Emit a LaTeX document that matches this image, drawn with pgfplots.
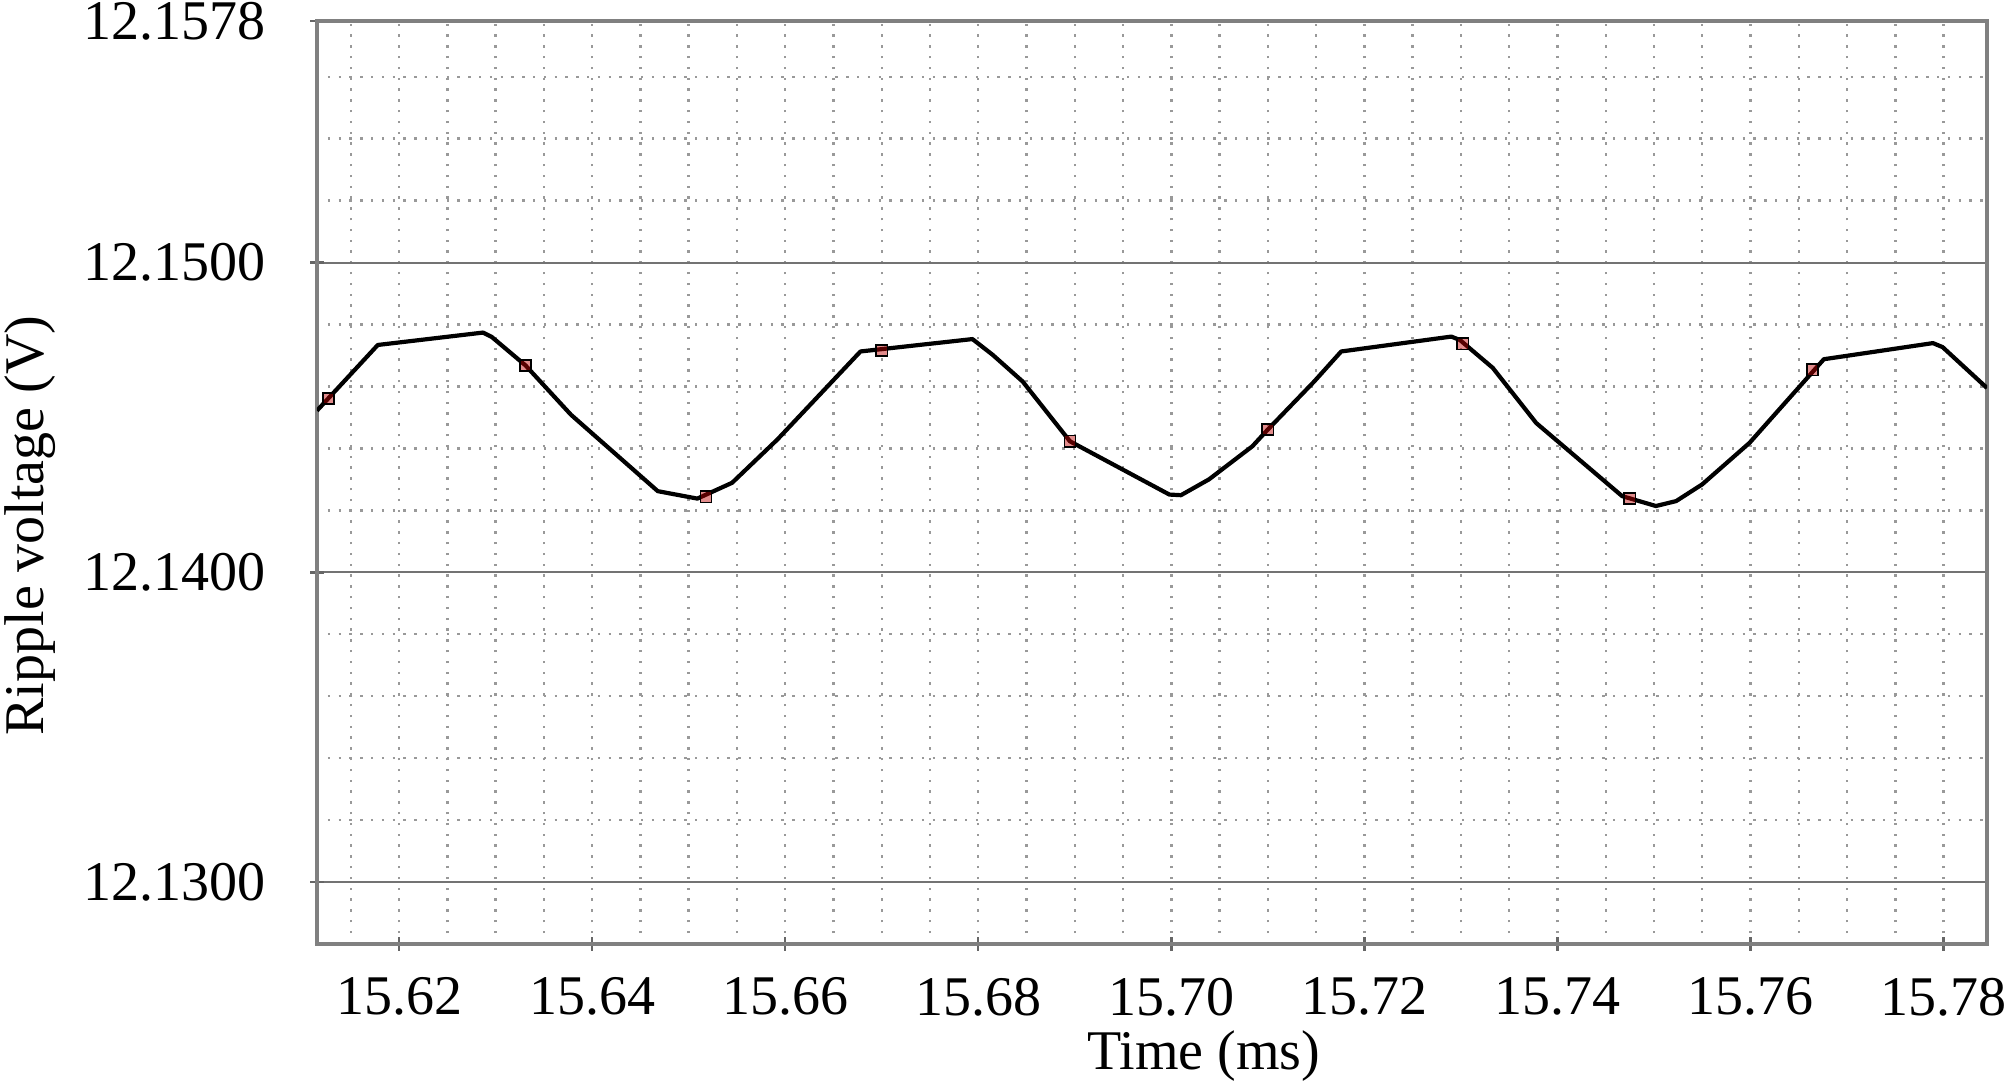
\documentclass[border=0pt]{standalone}
\usepackage{fontspec}
\setmainfont{Liberation Serif}
\usepackage{pgfplots}
\pgfplotsset{compat=1.18}
\begin{document}
\begin{tikzpicture}
\begin{axis}[
  scale only axis,
  width=417.5pt, height=230.75pt,
  xmin=15.6115, xmax=15.7845,
  ymin=12.128, ymax=12.1578,
  xtick={15.62,15.64,15.66,15.68,15.70,15.72,15.74,15.76,15.78},
  xticklabels={15.62,15.64,15.66,15.68,15.70,15.72,15.74,15.76,15.78},
  ytick={12.13,12.14,12.15,12.1578},
  yticklabels={12.1300,12.1400,12.1500,12.1578},
  minor xtick={15.615,15.620,15.625,15.630,15.635,15.640,15.645,15.650,15.655,15.660,15.665,15.670,15.675,15.680,15.685,15.690,15.695,15.700,15.705,15.710,15.715,15.720,15.725,15.730,15.735,15.740,15.745,15.750,15.755,15.760,15.765,15.770,15.775,15.780},
  minor ytick={12.132,12.134,12.136,12.138,12.142,12.144,12.146,12.148,12.152,12.154,12.156},
  tick pos=left,
  tick align=center,
  major tick length=3.5pt,
  minor tick length=0pt,
  tick style={black!60, line width=0.6pt},
  axis line style={black!50, line width=0.8pt},
  ymajorgrids,
  major grid style={black!55, line width=0.5pt},
  xminorgrids, yminorgrids,
  minor grid style={black!40, line width=0.6pt, dash pattern=on 0.6pt off 2.1pt},
  tick label style={font=\fontsize{14}{16}\selectfont},
  label style={font=\fontsize{14}{16}\selectfont},
  xticklabel style={anchor=north, inner sep=0pt, yshift=-6.5pt},
  yticklabel style={anchor=east, inner sep=0pt, xshift=-11pt},
  xlabel={Time (ms)},
  ylabel={Ripple voltage (V)},
  xlabel style={at={(axis description cs:0.5311,-0.1365)}, anchor=base},
  ylabel style={at={(axis description cs:-0.1635,0.4534)}, anchor=base},
]
\addplot[black, line width=1.05pt, line join=round] table {
x y
15.6115 12.14522
15.6178 12.14734
15.6287 12.14774
15.6296 12.14760
15.6331 12.14668
15.6378 12.14509
15.6468 12.14262
15.6509 12.14238
15.6545 12.14289
15.6592 12.14429
15.6678 12.14713
15.6794 12.14753
15.6815 12.14702
15.6846 12.14616
15.6895 12.14423
15.6998 12.14251
15.7010 12.14249
15.7039 12.14300
15.7084 12.14407
15.7100 12.14461
15.7148 12.14616
15.7176 12.14713
15.7290 12.14761
15.7299 12.14750
15.7333 12.14660
15.7378 12.14482
15.7467 12.14246
15.7502 12.14214
15.7523 12.14230
15.7550 12.14284
15.7599 12.14418
15.7676 12.14688
15.7789 12.14740
15.7799 12.14727
15.7845 12.14595
};
\addplot[only marks, mark=square*, mark size=1.4pt, mark options={draw=none, fill=red!75!black, fill opacity=0.45}] table {
x y
15.6127 12.14561
15.6331 12.14668
15.6518 12.14244
15.6700 12.14716
15.6895 12.14423
15.7100 12.14461
15.7302 12.14738
15.7475 12.14238
15.7664 12.14654
};
\end{axis}
\pgfresetboundingbox
\useasboundingbox (-79.25pt,-35.75pt) rectangle (422.75pt,236pt);
\end{tikzpicture}
\end{document}
